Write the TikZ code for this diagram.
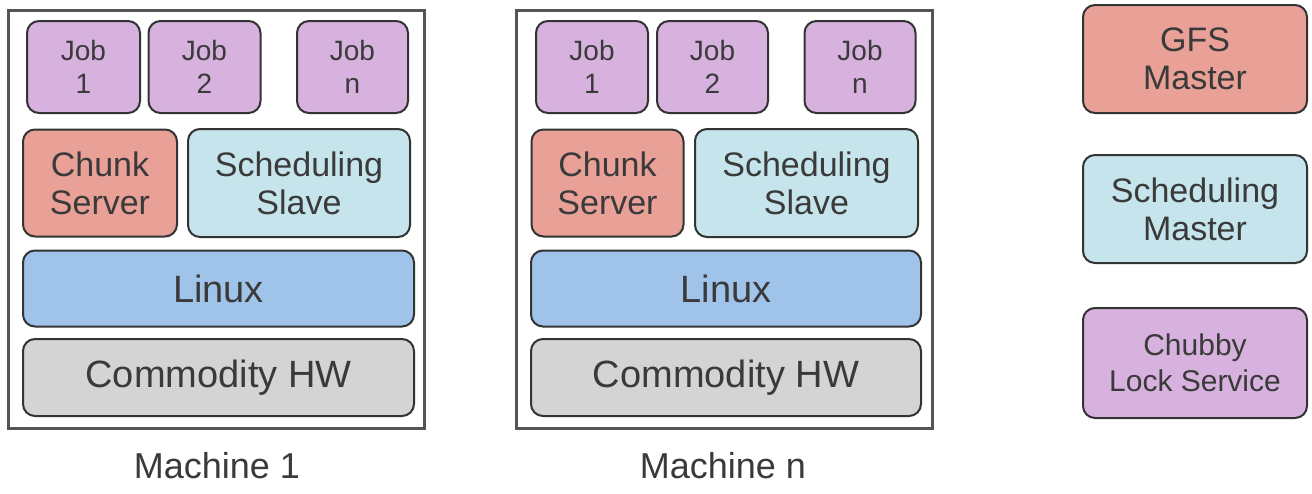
\documentclass[tikz,border=0pt]{standalone}
\usepackage{fontspec}
\setmainfont{Liberation Sans}
\definecolor{cpurple}{HTML}{D8B2DF}
\definecolor{csalmon}{HTML}{E9A197}
\definecolor{ccyan}{HTML}{C6E4EC}
\definecolor{cblue}{HTML}{9FC3E9}
\definecolor{cgray}{HTML}{D4D4D4}
\definecolor{cline}{HTML}{333333}
\definecolor{ctext}{HTML}{3A3A3A}
\definecolor{cframe}{HTML}{555555}
\tikzset{
  blk/.style={draw=cline, line width=2pt, rounded corners=12pt, align=center, inner sep=0pt, text=ctext},
  jobbox/.style={blk, fill=cpurple, font=\fontsize{28}{33}\selectfont},
  chunkbox/.style={blk, fill=csalmon, font=\fontsize{34}{38}\selectfont},
  schedbox/.style={blk, fill=ccyan, font=\fontsize{34}{38}\selectfont},
  linuxbox/.style={blk, fill=cblue, font=\fontsize{38}{42}\selectfont},
  hwbox/.style={blk, fill=cgray, font=\fontsize{38}{42}\selectfont},
  frame/.style={draw=cframe, line width=3pt, fill=white, inner sep=0pt},
  caption/.style={text=ctext, font=\fontsize{36}{40}\selectfont, inner sep=0pt},
}
\begin{document}
\begin{tikzpicture}[x=1pt,y=-1pt]
\useasboundingbox (0,0) rectangle (1312,493);
% Machine 1
\node[frame, minimum width=416, minimum height=418] (f1) at (216.5,219.5) {};
\node[jobbox, minimum width=113, minimum height=92] (m1j1) at (83.5,67) {Job\\1};
\node[jobbox, minimum width=112, minimum height=92] (m1j2) at (204.5,67) {Job\\2};
\node[jobbox, minimum width=111, minimum height=92] (m1jn) at (352.5,67) {Job\\n};
\node[chunkbox, minimum width=154, minimum height=107] (m1cs) at (100,183) {Chunk\\Server};
\node[schedbox, minimum width=222, minimum height=108] (m1ss) at (299,183) {Scheduling\\Slave};
\node[linuxbox, minimum width=391, minimum height=76] (m1lx) at (218.5,288.5) {Linux};
\node[hwbox, minimum width=391, minimum height=77] (m1hw) at (218.5,377.5) {Commodity HW};
\node[caption, anchor=base] (m1cap) at (217,478) {Machine 1};
% Machine n
\node[frame, minimum width=416, minimum height=418] (f2) at (724,219.5) {};
\node[jobbox, minimum width=112, minimum height=92] (m2j1) at (592,67) {Job\\1};
\node[jobbox, minimum width=111, minimum height=92] (m2j2) at (712.5,67) {Job\\2};
\node[jobbox, minimum width=111, minimum height=92] (m2jn) at (860,67) {Job\\n};
\node[chunkbox, minimum width=152, minimum height=107] (m2cs) at (607.5,183) {Chunk\\Server};
\node[schedbox, minimum width=223, minimum height=108] (m2ss) at (806.5,183) {Scheduling\\Slave};
\node[linuxbox, minimum width=390, minimum height=76] (m2lx) at (726,288.5) {Linux};
\node[hwbox, minimum width=390, minimum height=77] (m2hw) at (726,377.5) {Commodity HW};
\node[caption, anchor=base] (m2cap) at (723,478) {Machine n};
% Right column
\node[chunkbox, minimum width=224, minimum height=108] (gfs) at (1195,59) {GFS\\Master};
\node[schedbox, minimum width=224, minimum height=108] (smaster) at (1195,209) {Scheduling\\Master};
\node[jobbox, font=\fontsize{30}{36}\selectfont, minimum width=224, minimum height=110] (chubby) at (1195,363) {Chubby\\Lock Service};
\end{tikzpicture}
\end{document}
